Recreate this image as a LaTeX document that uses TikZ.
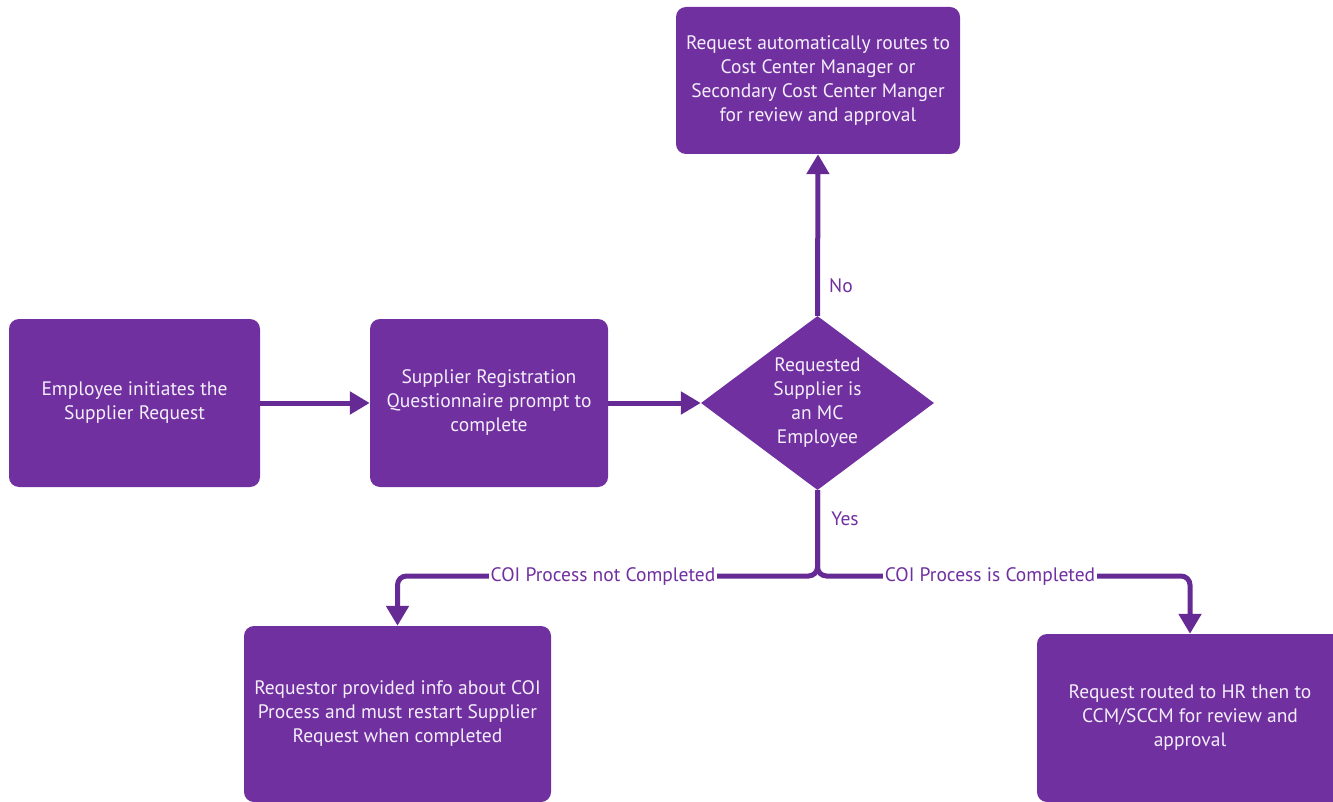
\documentclass[tikz,border=0pt]{standalone}
\usepackage{fontspec}
\setmainfont{PT Sans}
\usetikzlibrary{shapes.geometric,arrows.meta}
\definecolor{boxpurple}{HTML}{7030A0}
\definecolor{linepurple}{HTML}{652A93}
\definecolor{boxtext}{HTML}{F4EEFA}
\tikzset{
  procbox/.style={draw=none, fill=boxpurple, rounded corners=10pt, text=boxtext,
    align=center, inner sep=0pt, font=\fontsize{19.5}{24}\selectfont},
  decbox/.style={draw=none, fill=boxpurple, diamond, aspect=1.34, text=boxtext,
    align=center, inner sep=0pt, minimum width=233pt, minimum height=174pt,
    font=\fontsize{19.5}{24}\selectfont},
  flow/.style={draw=linepurple, line width=5pt, -{Triangle[length=20pt,width=22pt]}},
  flowlabel/.style={text=boxpurple, font=\fontsize{19.5}{24}\selectfont, inner sep=1pt},
  cutlabel/.style={flowlabel, fill=white, inner xsep=2pt},
}
\begin{document}
\begin{tikzpicture}[x=1pt,y=-1pt]
\useasboundingbox (0,0) rectangle (1333,802);
\clip (0,0) rectangle (1333,802);
\node[procbox, minimum width=251pt, minimum height=168pt] (emp) at (134.5,403) {Employee initiates the\\Supplier Request};
\node[procbox, minimum width=238pt, minimum height=168pt] (reg) at (489,403) {Supplier Registration\\Questionnaire prompt to\\complete};
\node[decbox] (dec) at (817.5,403) {Requested\\Supplier is\\an MC\\Employee};
\node[procbox, minimum width=284pt, minimum height=147pt] (auto) at (818,80.5) {Request automatically routes to\\Cost Center Manager or\\Secondary Cost Center Manger\\for review and approval};
\node[procbox, minimum width=307pt, minimum height=176pt] (req) at (397.5,714) {Requestor provided info about COI\\Process and must restart Supplier\\Request when completed};
\node[procbox, minimum width=306pt, minimum height=168pt] (hr) at (1190,718) {Request routed to HR then to\\CCM/SCCM for review and\\approval};
\coordinate (split) at (817.5,576);
\draw[flow] (emp.east) -- (reg.west);
\draw[flow] (reg.east) -- (dec.west);
\draw[flow] (dec.north) -- (auto.south);
\draw[flow, rounded corners=9pt] (dec.south) -- (split) -- (req.north |- split) -- (req.north);
\draw[flow, rounded corners=9pt] (dec.south) -- (split) -- (hr.north |- split) -- (hr.north);
\node[flowlabel] (no) at (841,286) {No};
\node[flowlabel] (yes) at (845,519) {Yes};
\node[cutlabel] (notc) at (603,577) {COI Process not Completed};
\node[cutlabel] (isc) at (990,577) {COI Process is Completed};
\end{tikzpicture}
\end{document}
